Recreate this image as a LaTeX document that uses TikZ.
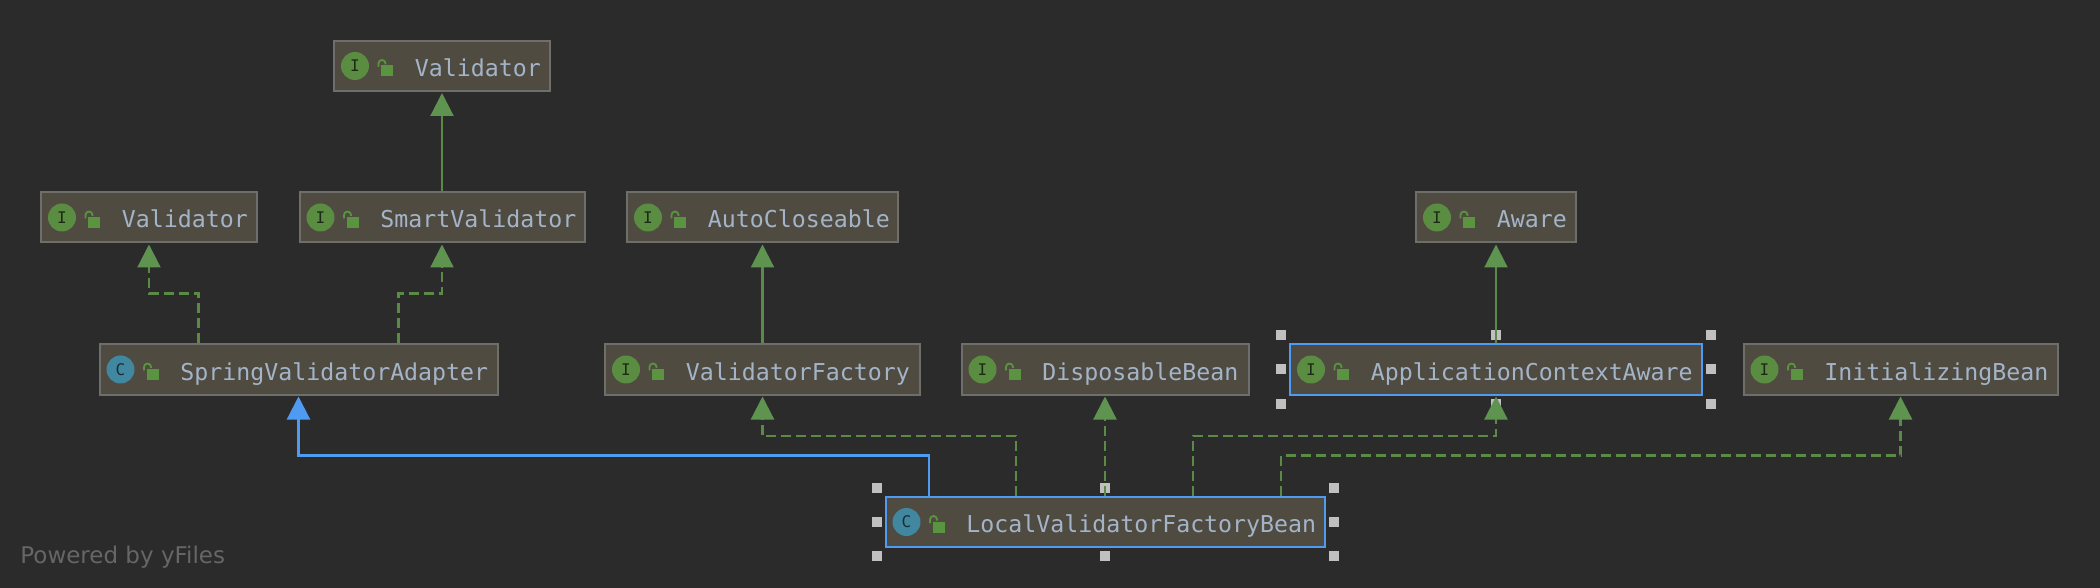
\documentclass[tikz,border=0pt]{standalone}
\usepackage{fontspec}
\setmainfont{DejaVu Sans}
\setmonofont{DejaVu Sans Mono}
\usetikzlibrary{arrows.meta}
\definecolor{diagrambg}{HTML}{2B2B2B}
\definecolor{boxfill}{HTML}{4F4B41}
\definecolor{boxedge}{HTML}{6E6E6A}
\definecolor{selblue}{HTML}{4F9BF2}
\definecolor{linkgreen}{HTML}{5A8A46}
\definecolor{tipgreen}{HTML}{5F9450}
\definecolor{lockgreen}{HTML}{5A9440}
\definecolor{ifacefill}{HTML}{5A8C42}
\definecolor{classfill}{HTML}{41879F}
\definecolor{labeltext}{HTML}{A4B4C8}
\definecolor{handlegray}{HTML}{C0C0C0}
\definecolor{footgray}{HTML}{666666}
\tikzset{
  classbox/.style={draw=boxedge, fill=boxfill, line width=1pt, minimum height=25pt, inner sep=0pt},
  selbox/.style={draw=selblue},
  boxlabel/.style={anchor=base west, inner sep=0pt, text=labeltext, font=\ttfamily\fontsize{11.62}{14}\selectfont},
  ifaceicon/.style={circle, fill=ifacefill, minimum size=14pt, inner sep=0pt, text=black!70!ifacefill, font=\ttfamily\fontsize{8}{9}\selectfont},
  classicon/.style={ifaceicon, fill=classfill, text=black!65!classfill},
  selmark/.style={fill=handlegray, minimum size=5pt, inner sep=0pt},
  extends/.style={-{Triangle[width=11.5pt,length=11.5pt]}, line width=1.1pt, shorten >=0.5pt},
  solidlink/.style={extends, draw=linkgreen, -{Triangle[width=11.5pt,length=11.5pt,color=tipgreen]}},
  implements/.style={solidlink, dash pattern=on 5pt off 2.5pt},
  bluelink/.style={extends, draw=selblue}
}
% #1 box options, #2 name, #3 centre, #4 width in px, #5 icon style, #6 icon letter, #7 text
\newcommand{\umlbox}[7][]{
  \node[classbox, #1, minimum width=#4*0.5pt-0.5pt] (#2) at (#3) {};
  \node[#5] (#2Icon) at ([shift={(22,0)}]#2.west) {#6};
  \fill[lockgreen] ([shift={(48,-0.5)}]#2.west) rectangle ([shift={(60,10.5)}]#2.west);
  \draw[lockgreen, line width=0.9pt] ([shift={(45.5,1)}]#2.west) -- ++(0,-3.5) arc[start angle=180, end angle=0, radius=1.75pt] -- ++(0,1);
  \node[boxlabel] (#2Label) at ([shift={(81.5,10.5)}]#2.west) {#7};
}
% eight small squares round a selected box
\newcommand{\selmarks}[1]{
  \foreach \sx/\sy/\a/\k in {-8/-8/north west/1, 0/-8/north/2, 8/-8/north east/3, -8/0/west/4, 8/0/east/5, -8/8/south west/6, 0/8/south/7, 8/8/south east/8}
    \node[selmark] (#1Mark\k) at ([shift={(\sx,\sy)}]#1.\a) {};
}
\begin{document}
\begin{tikzpicture}[x=0.5pt, y=-0.5pt]
  \fill[diagrambg] (0,0) rectangle (2100,588);
  \useasboundingbox (0,0) rectangle (2100,588);

  \umlbox{TopValidator}{442,66}{217}{ifaceicon}{I}{Validator}
  \umlbox{Validator}{149,217.5}{217}{ifaceicon}{I}{Validator}
  \umlbox{SmartValidator}{442,217.5}{286}{ifaceicon}{I}{SmartValidator}
  \umlbox{AutoCloseable}{762.5,217.5}{272}{ifaceicon}{I}{AutoCloseable}
  \umlbox{Aware}{1496,217.5}{161}{ifaceicon}{I}{Aware}
  \umlbox{SpringAdapter}{298.5,369.5}{399}{classicon}{C}{SpringValidatorAdapter}
  \umlbox{ValidatorFactory}{762.5,369.5}{316}{ifaceicon}{I}{ValidatorFactory}
  \umlbox{DisposableBean}{1105,369.5}{288}{ifaceicon}{I}{DisposableBean}
  \umlbox[selbox]{ContextAware}{1496,369.5}{413}{ifaceicon}{I}{ApplicationContextAware}
  \umlbox{InitializingBean}{1900.5,369.5}{315}{ifaceicon}{I}{InitializingBean}
  \umlbox[selbox]{LocalBean}{1105,522}{440}{classicon}{C}{LocalValidatorFactoryBean}

  \selmarks{ContextAware}
  \selmarks{LocalBean}

  \draw[solidlink] (SmartValidator.north) -- (TopValidator.south);
  \draw[solidlink] (ValidatorFactory.north) -- (AutoCloseable.south);
  \draw[solidlink] (ContextAware.north) -- (Aware.south);
  \draw[implements] ([shift={(-100,0)}]SpringAdapter.north) -- ++(0,-50) -| (Validator.south);
  \draw[implements] ([shift={(100,0)}]SpringAdapter.north) -- ++(0,-50) -| (SmartValidator.south);
  \draw[bluelink] ([shift={(-176,0)}]LocalBean.north) -- ++(0,-40.5) -| (SpringAdapter.south);
  \draw[implements] ([shift={(-89,0)}]LocalBean.north) -- ++(0,-60) -| (ValidatorFactory.south);
  \draw[implements] (LocalBean.north) -- (DisposableBean.south);
  \draw[implements] ([shift={(88,0)}]LocalBean.north) -- ++(0,-60) -| (ContextAware.south);
  \draw[implements] ([shift={(176,0)}]LocalBean.north) -- ++(0,-40.5) -| (InitializingBean.south);

  \node[anchor=base west, inner sep=0pt, text=footgray, font=\fontsize{11.5}{14}\selectfont] (PoweredBy) at (20,563) {Powered by yFiles};
\end{tikzpicture}
\end{document}
